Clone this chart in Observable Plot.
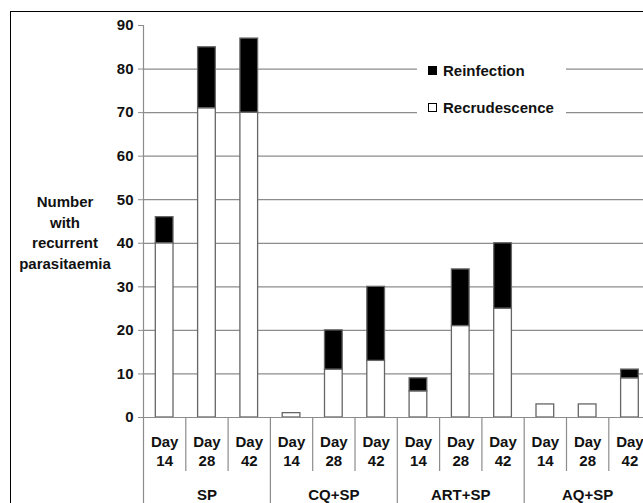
<!DOCTYPE html>
<html>
<head>
<meta charset="utf-8">
<script src="https://cdn.jsdelivr.net/npm/d3@7"></script>
<script src="https://cdn.jsdelivr.net/npm/@observablehq/plot@0.6"></script>
<style>
  html, body { margin: 0; padding: 0; background: #fff; }
  #wrap { position: relative; width: 643px; height: 503px; overflow: hidden; font-family: "Liberation Sans", Arial, sans-serif; }
  #frame { position: absolute; left: 10px; top: 11px; width: 700px; height: 600px; border-left: 1.5px solid #000; border-top: 1.5px solid #000; pointer-events: none; }
  #ytitle { position: absolute; left: 5px; top: 192px; width: 120px; text-align: center; font-weight: bold; font-size: 15px; line-height: 20.5px; color: #111; }
  #legend { position: absolute; left: 417px; top: 55px; width: 149px; height: 67px; background: #fff; font-weight: bold; font-size: 15px; color: #111; }
  .row { position: absolute; left: 11px; display: flex; align-items: center; height: 18px; }
  .sw { width: 9px; height: 9px; box-sizing: border-box; margin-right: 6px; }
</style>
</head>
<body>
<div id="wrap">
  <div id="chart"></div>
  <div id="ytitle">Number<br>with<br>recurrent<br>parasitaemia</div>
  <div id="legend"></div>
  <div id="frame"></div>
</div>
<script>
const groups = ["SP", "CQ+SP", "ART+SP", "AQ+SP"];
const days = ["14", "28", "42"];
const seriesNames = ["Recrudescence", "Reinfection"];
const seriesColors = ["#ffffff", "#000000"];
const recrudescence = [40, 71, 70, 1, 11, 13, 6, 21, 25, 3, 3, 9];
const reinfection = [6, 14, 17, 0, 9, 17, 3, 13, 15, 0, 0, 2];
const yTicks = [0, 10, 20, 30, 40, 50, 60, 70, 80, 90];

const nSlots = groups.length * days.length;
const rows = [];
for (let i = 0; i < nSlots; i++) {
  rows.push({slot: i, type: seriesNames[0], n: recrudescence[i]});
  if (reinfection[i] > 0) rows.push({slot: i, type: seriesNames[1], n: reinfection[i]});
}
const centers = d3.range(nSlots).map(i => i + 0.5);
const slotSeps = d3.range(1, nSlots).filter(i => i % days.length !== 0);
const groupSeps = d3.range(0, nSlots + 1, days.length);
const groupCenters = groups.map((g, j) => j * days.length + days.length / 2);

const grey = "#8c8c8c";
const step = 42.3;
const font = {fontSize: 15, fontWeight: "bold", fontFamily: "Liberation Sans, Arial, sans-serif", fill: "#111"};

const chart = Plot.plot({
  width: 643,
  height: 503,
  marginLeft: 143,
  marginRight: 0,
  marginTop: 25,
  marginBottom: 86,
  style: {fontFamily: "Liberation Sans, Arial, sans-serif", background: "transparent", overflow: "visible"},
  x: {domain: [0, nSlots], range: [143, 143 + nSlots * step], axis: null},
  y: {domain: [0, 90], range: [417, 25], axis: null},
  color: {domain: seriesNames, range: seriesColors},
  marks: [
    Plot.gridY(yTicks.filter(t => t > 0 && t < 90), {stroke: grey, strokeOpacity: 1, strokeWidth: 1.2}),
    Plot.rectY(rows, {x1: "slot", x2: d => d.slot + 1, y: "n", fill: "type", stroke: "#666", strokeWidth: 1.3, insetLeft: 12.3, insetRight: 12.3}),
    Plot.ruleX([0], {stroke: grey, strokeWidth: 1.2}),
    Plot.ruleY([0], {stroke: grey, strokeWidth: 1.2}),
    Plot.axisY({ticks: yTicks, tickSize: 5, tickPadding: 5, stroke: grey, ...font, label: null}),
    Plot.axisX({ticks: slotSeps, tickSize: 54, stroke: grey, strokeWidth: 1.2, tickFormat: () => "", label: null}),
    Plot.axisX({ticks: groupSeps, tickSize: 86, stroke: grey, strokeWidth: 1.2, tickFormat: () => "", label: null}),
    Plot.axisX({ticks: centers, tickSize: 0, tickPadding: 19, tickFormat: () => "Day", ...font, label: null}),
    Plot.axisX({ticks: centers, tickSize: 0, tickPadding: 38, tickFormat: d => days[Math.floor(d) % days.length], ...font, label: null}),
    Plot.axisX({ticks: groupCenters, tickSize: 0, tickPadding: 72, tickFormat: d => groups[Math.floor(d / days.length)], ...font, label: null})
  ]
});
document.getElementById("chart").appendChild(chart);

// legend (Reinfection on top, Recrudescence below)
const legend = document.getElementById("legend");
[1, 0].forEach((k, r) => {
  const row = document.createElement("div");
  row.className = "row";
  row.style.top = (6 + r * 37) + "px";
  const sw = document.createElement("div");
  sw.className = "sw";
  sw.style.background = seriesColors[k];
  sw.style.border = "1px solid #000";
  row.appendChild(sw);
  const t = document.createElement("span");
  t.textContent = seriesNames[k];
  row.appendChild(t);
  legend.appendChild(row);
});
</script>
</body>
</html>
